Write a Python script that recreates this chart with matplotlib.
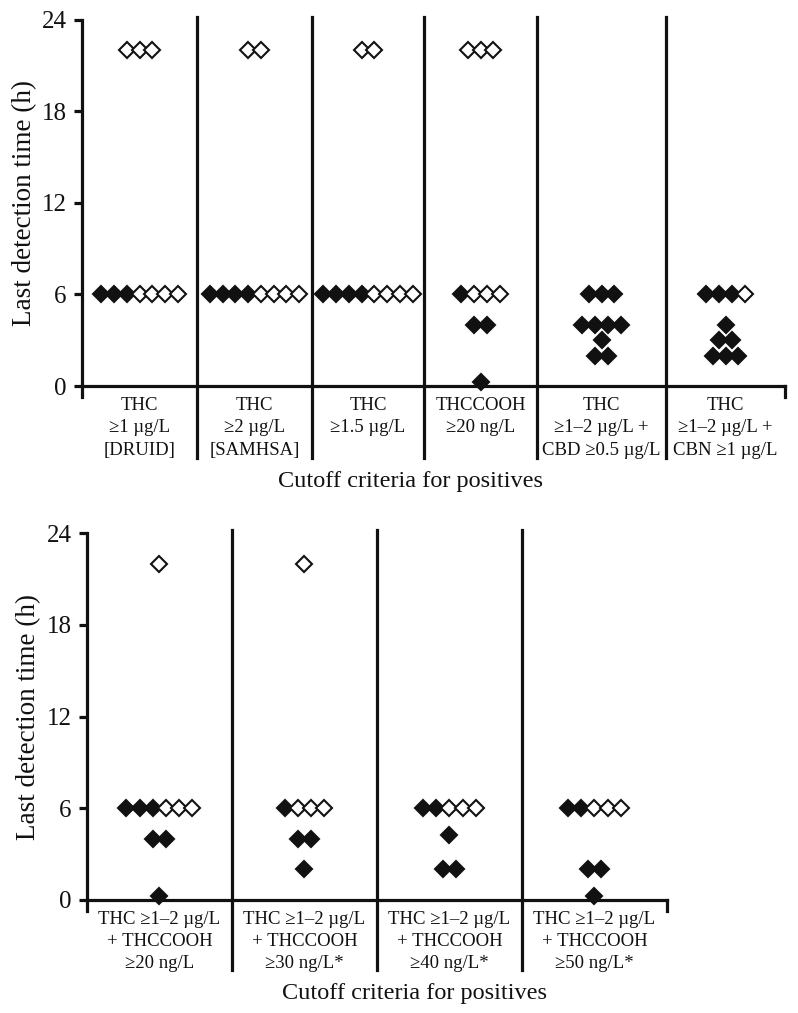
import matplotlib
matplotlib.use("Agg")
from matplotlib import pyplot as plt

plt.rcParams['font.family'] = ['Liberation Serif', 'DejaVu Serif']

# top panel: last detection time (h) per cutoff, filled / open diamonds
top_labels = ["THC\n≥1 µg/L\n[DRUID]", "THC\n≥2 µg/L\n[SAMHSA]", "THC\n≥1.5 µg/L",
              "THCCOOH\n≥20 ng/L", "THC\n≥1–2 µg/L +\nCBD ≥0.5 µg/L",
              "THC\n≥1–2 µg/L +\nCBN ≥1 µg/L"]
top_filled = [[6, 6, 6], [6, 6, 6, 6], [6, 6, 6, 6], [6, 4, 4, 0.25],
              [6, 6, 6, 4, 4, 4, 4, 3, 2, 2], [6, 6, 6, 4, 3, 3, 2, 2, 2]]
top_open = [[6, 6, 6, 6, 22, 22, 22], [6, 6, 6, 6, 22, 22], [6, 6, 6, 6, 22, 22],
            [6, 6, 6, 22, 22, 22], [], [6]]

# bottom panel
bot_labels = ["THC ≥1–2 µg/L\n+ THCCOOH\n≥20 ng/L", "THC ≥1–2 µg/L\n+ THCCOOH\n≥30 ng/L*",
              "THC ≥1–2 µg/L\n+ THCCOOH\n≥40 ng/L*", "THC ≥1–2 µg/L\n+ THCCOOH\n≥50 ng/L*"]
bot_filled = [[6, 6, 6, 4, 4, 0.25], [6, 4, 4, 2], [6, 6, 4.25, 2, 2], [6, 6, 2, 2, 0.25]]
bot_open = [[6, 6, 6, 22], [6, 6, 6, 22], [6, 6, 6], [6, 6, 6]]

yticks = [0, 6, 12, 18, 24]
ink = '#111111'
lw = 2.3


def swarm(center, filled, hollow, step):
    # rows of equal time, filled ones first, centred on the column
    pts = []
    for y in sorted(set(filled) | set(hollow)):
        row = [True] * filled.count(y) + [False] * hollow.count(y)
        n = len(row)
        for i, f in enumerate(row):
            pts.append((center + (i - (n - 1) / 2) * step, y, f))
    return pts


def panel(rect, labels, filled, hollow, bounds, step, div_low, ylab_x):
    ax = fig.add_axes(rect)
    ylo = -0.7
    ax.set_xlim(bounds[0], bounds[-1])
    ax.set_ylim(ylo, 24)
    centers = [(a + b) / 2 for a, b in zip(bounds[:-1], bounds[1:])]
    for c, fl, ho in zip(centers, filled, hollow):
        for x, y, f in swarm(c, fl, ho, step):
            ax.plot(x, y, marker='D', ms=8.4, mew=1.5, mec=ink,
                    mfc=ink if f else 'white', clip_on=False, zorder=5)
    for b in bounds[1:-1]:
        ax.plot([b, b], [div_low, 24.2], color=ink, lw=lw, clip_on=False, zorder=3)
    ax.spines['top'].set_visible(False)
    ax.spines['bottom'].set_position(('data', 0))
    ax.spines['left'].set_bounds(ylo, 24)
    ax.spines['right'].set_bounds(ylo, 0)
    for s in ('bottom', 'left', 'right'):
        ax.spines[s].set_linewidth(lw)
        ax.spines[s].set_color(ink)
    ax.set_yticks(yticks)
    ax.set_yticklabels([str(t) for t in yticks])
    ax.tick_params(axis='y', direction='out', length=6, width=lw, color=ink,
                   labelsize=18, pad=5, labelcolor=ink)
    ax.set_xticks(centers)
    ax.set_xticklabels(labels, fontsize=13.5, color=ink, linespacing=1.4)
    ax.tick_params(axis='x', length=0, pad=8)
    ax.set_ylabel("Last detection time (h)", fontsize=19.5, color=ink)
    ax.yaxis.set_label_coords(ylab_x, (12 - ylo) / (24 - ylo))
    return ax


fig = plt.figure(figsize=(7.98, 10.13), dpi=100)

panel([0.1028, 0.6084, 0.881, 0.3719], top_labels, top_filled, top_open,
      [0, 1, 2, 2.974, 3.957, 5.078, 6.113], 0.111, -4.7, -0.064)
fig.text(411 / 798, 1 - 481 / 1013, "Cutoff criteria for positives", fontsize=17.5,
         ha='center', va='center', color=ink)

panel([0.109, 0.101, 0.7268, 0.3728], bot_labels, bot_filled, bot_open,
      [0, 1, 2, 3, 4], 0.091, -4.6, -0.079)
fig.text(415 / 798, 1 - 993 / 1013, "Cutoff criteria for positives", fontsize=17.5,
         ha='center', va='center', color=ink)

fig.savefig("out.png", dpi=100)
